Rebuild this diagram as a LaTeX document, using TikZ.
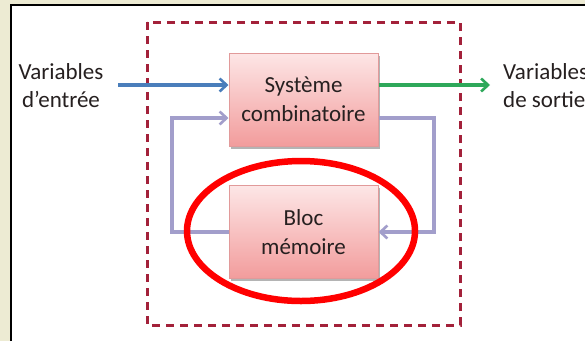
\documentclass[tikz,border=0pt]{standalone}
\usepackage{fontspec}
\setmainfont{Carlito}
\usetikzlibrary{arrows.meta,shadows}
\definecolor{beige}{HTML}{EDEBD3}
\definecolor{inblue}{HTML}{4A7EBB}
\definecolor{outgreen}{HTML}{2EA85A}
\definecolor{fblav}{HTML}{A29ECB}
\definecolor{dashred}{HTML}{A3213A}
\definecolor{boxline}{HTML}{E19A9A}
\definecolor{boxtop}{HTML}{FDE6E6}
\definecolor{boxbot}{HTML}{F29C9C}
\definecolor{txt}{HTML}{262020}
\tikzset{
  blockbox/.style={draw=boxline, line width=1pt, top color=boxtop, bottom color=boxbot,
    minimum width=149pt, minimum height=93pt, inner sep=0pt, align=center,
    font=\fontsize{23}{29}\selectfont, text=txt,
    drop shadow={shadow xshift=1.5pt, shadow yshift=-2.5pt, opacity=0.45, fill=black!65}},
  lbl/.style={font=\fontsize{23}{28}\selectfont, text=txt, inner sep=0pt},
  tip/.style={-{Straight Barb[length=7pt,width=13pt,line width=2.6pt]}},
  conn/.style={line width=3.2pt},
}
\begin{document}
\begin{tikzpicture}[x=1pt,y=-1pt]
\useasboundingbox (0,0) rectangle (585,341);
\clip (0,0) rectangle (585,341);
% background frame
\fill[beige] (0,0) rectangle (585,341);
\fill[white] (12,6) rectangle (585,341);
\draw[black, line width=2.2pt] (11,341) -- (11,5) -- (585,5);
% dashed boundary
\draw[dashred, line width=3pt, dash pattern=on 8pt off 6pt] (147,22) rectangle (460,325);
% blocks
\node[blockbox] (top) at (303.5,99.5) {Système\\combinatoire};
\node[blockbox] (bot) at (303.5,232) {Bloc\\mémoire};
% labels
\node[lbl, align=center] (inl) at (61,86) {Variables\\d’entrée};
\node[lbl, align=left, anchor=west] (outl) at (503,86) {Variables\\de sortie};
% coordinates
\coordinate (instart) at (118,85);
\coordinate (outend) at (490,85);
\coordinate (inW) at ([yshift=14.5pt]top.west);
\coordinate (outE) at ([yshift=14.5pt]top.east);
\coordinate (fbE) at ([yshift=-18.5pt]top.east);
\coordinate (fbW) at ([yshift=-18.5pt]top.west);
\coordinate (fbR) at (434,0);
\coordinate (fbL) at (172,0);
% input / output
\draw[conn, inblue, tip] (instart) -- (inW);
\draw[conn, outgreen, tip] (outE) -- (outend);
% feedback loop
\draw[conn, fblav, tip] (fbE) -| (fbR |- bot.east) -- (bot.east);
\draw[conn, fblav, tip] (bot.west) -| (fbL |- fbW) -- (fbW);
% red highlight ellipse
\draw[red, line width=6.5pt] (301,231) ellipse [x radius=114, y radius=70];
\end{tikzpicture}
\end{document}
